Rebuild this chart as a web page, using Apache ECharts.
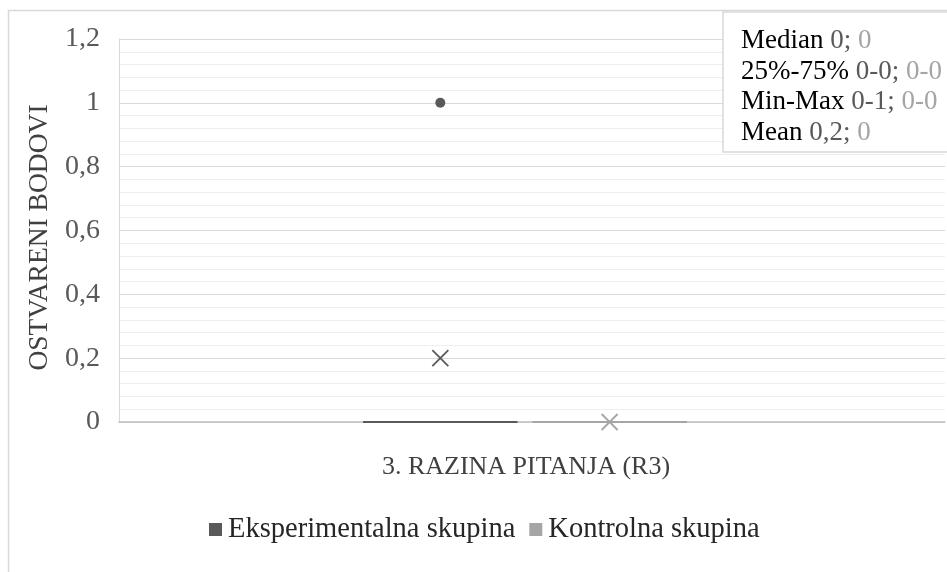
<!DOCTYPE html>
<html>
<head>
<meta charset="utf-8">
<script src="https://cdn.jsdelivr.net/npm/echarts@6/dist/echarts.min.js"></script>
<style>
  html, body { margin: 0; padding: 0; background: #fff; }
  #chart { width: 947px; height: 572px; }
</style>
</head>
<body>
<div id="chart"></div>
<script>
// podaci
const categories = ['3. RAZINA PITANJA (R3)']
const seriesNames = ['Eksperimentalna skupina', 'Kontrolna skupina']
// [min, q1, medijan, q3, max]
const expBox = [0, 0, 0, 0, 0]
const ctrlBox = [0, 0, 0, 0, 0]
const expMean = 0.2
const ctrlMean = 0
const expOutliers = [1]
const ctrlOutliers = []
const yTicks = [0, 0.2, 0.4, 0.6, 0.8, 1, 1.2]

const FONT = '"Liberation Serif", "Times New Roman", serif'
const EXP_COLOR = '#595959'
const CTRL_COLOR = '#a5a5a5'

const fmt = v => String(v).replace('.', ',')

// crtanje kutije (box) za jednu skupinu
function boxRender (offset, widthFrac, color) {
  return function (params, api) {
    const band = api.size([1, 0])[0]
    const base = api.coord([api.value(0), 0])
    const cx = base[0] + offset * band
    const half = widthFrac * band / 2
    const y = i => api.coord([api.value(0), api.value(i)])[1]
    const yMin = y(1), yQ1 = y(2), yMed = y(3), yQ3 = y(4), yMax = y(5), yMean = y(6)
    const line = { stroke: color, lineWidth: 1.8 }
    const m = 8
    return {
      type: 'group',
      children: [
        { type: 'line', shape: { x1: cx, y1: yMin, x2: cx, y2: yQ1 }, style: line },
        { type: 'line', shape: { x1: cx, y1: yQ3, x2: cx, y2: yMax }, style: line },
        { type: 'rect', shape: { x: cx - half, y: yQ3, width: half * 2, height: yQ1 - yQ3 }, style: { fill: color, stroke: color, lineWidth: 1.8 } },
        { type: 'line', shape: { x1: cx - half, y1: yMed, x2: cx + half, y2: yMed }, style: line },
        { type: 'line', shape: { x1: cx - m, y1: yMean - m, x2: cx + m, y2: yMean + m }, style: { stroke: color, lineWidth: 1.8 } },
        { type: 'line', shape: { x1: cx - m, y1: yMean + m, x2: cx + m, y2: yMean - m }, style: { stroke: color, lineWidth: 1.8 } }
      ]
    }
  }
}

function pointRender (offset, color) {
  return function (params, api) {
    const band = api.size([1, 0])[0]
    const p = api.coord([api.value(0), api.value(1)])
    return {
      type: 'circle',
      shape: { cx: p[0] + offset * band, cy: p[1], r: 5 },
      style: { fill: color }
    }
  }
}

const expOffset = -0.111
const ctrlOffset = 0.094
const boxFrac = 0.1864

const expMin = Math.min(expBox[0], ...expOutliers)
const expMax = Math.max(expBox[4], ...expOutliers)
const ctrlMin = Math.min(ctrlBox[0], ...ctrlOutliers)
const ctrlMax = Math.max(ctrlBox[4], ...ctrlOutliers)

const statText = [
  '{k|Median} {a|' + fmt(expBox[2]) + ';} {b|' + fmt(ctrlBox[2]) + '}',
  '{k|25%-75%} {a|' + fmt(expBox[1]) + '-' + fmt(expBox[3]) + ';} {b|' + fmt(ctrlBox[1]) + '-' + fmt(ctrlBox[3]) + '}',
  '{k|Min-Max} {a|' + fmt(expMin) + '-' + fmt(expMax) + ';} {b|' + fmt(ctrlMin) + '-' + fmt(ctrlMax) + '}',
  '{k|Mean} {a|' + fmt(expMean) + ';} {b|' + fmt(ctrlMean) + '}'
].join('\n')

const chart = echarts.init(document.getElementById('chart'))
chart.setOption({
  backgroundColor: '#fff',
  animation: false,
  title: {
    text: statText,
    left: 723,
    top: 12,
    padding: [14, 80, 4, 18],
    backgroundColor: '#fff',
    borderColor: '#d9d9d9',
    borderWidth: 1.5,
    z: 10,
    textStyle: {
      fontFamily: FONT,
      fontSize: 27,
      fontWeight: 'normal',
      lineHeight: 30.5,
      color: '#000',
      rich: {
        k: { fontFamily: FONT, fontSize: 27, lineHeight: 30.5, color: '#000' },
        a: { fontFamily: FONT, fontSize: 27, lineHeight: 30.5, color: '#595959' },
        b: { fontFamily: FONT, fontSize: 27, lineHeight: 30.5, color: '#a5a5a5' }
      }
    }
  },
  grid: { left: 119, right: 2, top: 39, bottom: 150 },
  legend: {
    data: seriesNames,
    left: 204,
    top: 510,
    icon: 'rect',
    itemWidth: 13,
    itemHeight: 13,
    itemGap: 14,
    textStyle: { fontFamily: FONT, fontSize: 28.5, color: '#262626', padding: [0, 0, 0, 1] }
  },
  xAxis: {
    type: 'category',
    data: categories,
    axisTick: { show: false },
    axisLine: { lineStyle: { color: '#bfbfbf', width: 1.5 } },
    axisLabel: { margin: 32, padding: [0, 12, 0, 0], fontFamily: FONT, fontSize: 26, color: '#404040' },
    splitLine: { show: false }
  },
  yAxis: {
    type: 'value',
    min: 0,
    max: yTicks[yTicks.length - 1],
    interval: 0.2,
    name: 'OSTVARENI BODOVI',
    nameLocation: 'middle',
    nameRotate: 90,
    nameGap: 64,
    nameTextStyle: { fontFamily: FONT, fontSize: 27.5, color: '#404040', padding: [0, 14, 0, 0] },
    axisLine: { show: true, lineStyle: { color: '#d9d9d9' } },
    axisTick: { show: false },
    axisLabel: { margin: 19, fontFamily: FONT, fontSize: 28, color: '#595959', formatter: v => fmt(+v.toFixed(1)) },
    splitLine: { lineStyle: { color: '#d9d9d9' } },
    minorTick: { show: false, splitNumber: 5 },
    minorSplitLine: { show: true, lineStyle: { color: '#eeeeee' } }
  },
  series: [
    {
      name: seriesNames[0],
      type: 'custom',
      itemStyle: { color: EXP_COLOR },
      renderItem: boxRender(expOffset, boxFrac, EXP_COLOR),
      encode: { x: 0, y: [1, 2, 3, 4, 5, 6] },
      data: [[0, ...expBox, expMean]],
      z: 3
    },
    {
      name: seriesNames[1],
      type: 'custom',
      itemStyle: { color: CTRL_COLOR },
      renderItem: boxRender(ctrlOffset, boxFrac, CTRL_COLOR),
      encode: { x: 0, y: [1, 2, 3, 4, 5, 6] },
      data: [[0, ...ctrlBox, ctrlMean]],
      z: 3
    },
    {
      name: seriesNames[0],
      type: 'custom',
      itemStyle: { color: EXP_COLOR },
      renderItem: pointRender(expOffset, EXP_COLOR),
      encode: { x: 0, y: 1 },
      data: expOutliers.map(v => [0, v]),
      z: 3
    }
  ],
  graphic: [
    {
      type: 'rect',
      shape: { x: 8.5, y: 10.5, width: 960, height: 600 },
      style: { fill: 'none', stroke: '#d9d9d9', lineWidth: 1.5 },
      z: 0,
      silent: true
    }
  ]
})
</script>
</body>
</html>
